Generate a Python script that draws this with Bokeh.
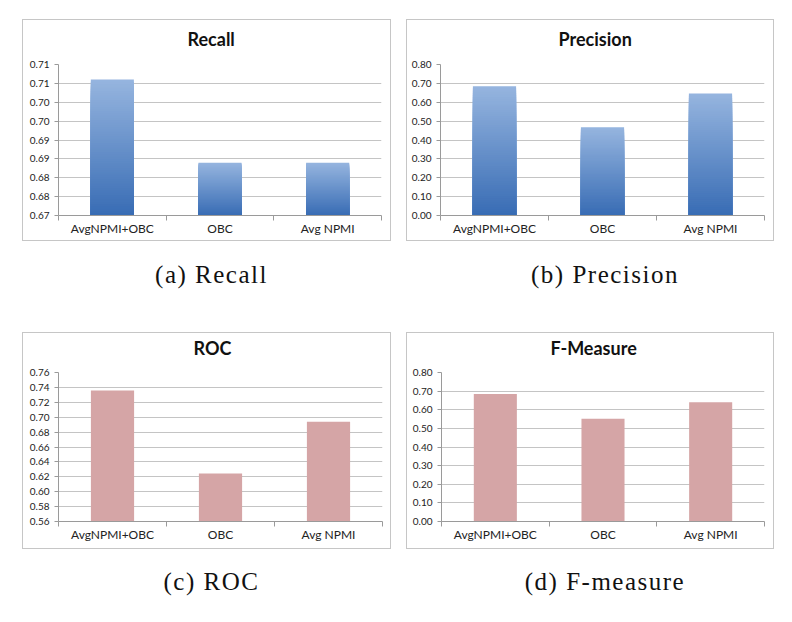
from bokeh.plotting import figure
from bokeh.models import Range1d, FixedTicker, Div, Spacer, Title
from bokeh.layouts import column, row
from bokeh.embed import file_html
from bokeh.resources import INLINE

# ---------------- data ----------------
categories = ["AvgNPMI+OBC", "OBC", "Avg NPMI"]

recall = [0.706, 0.684, 0.684]
precision = [0.685, 0.467, 0.646]
roc = [0.736, 0.6245, 0.694]
fmeasure = [0.685, 0.552, 0.640]

recall_ticks = [0.670, 0.675, 0.680, 0.685, 0.690, 0.695, 0.700, 0.705, 0.710]
recall_tick_labels = ["0.67", "0.68", "0.68", "0.69", "0.69", "0.70", "0.70", "0.71", "0.71"]
precision_ticks = [0.0, 0.1, 0.2, 0.3, 0.4, 0.5, 0.6, 0.7, 0.8]
precision_tick_labels = ["0.00", "0.10", "0.20", "0.30", "0.40", "0.50", "0.60", "0.70", "0.80"]
roc_ticks = [0.56, 0.58, 0.60, 0.62, 0.64, 0.66, 0.68, 0.70, 0.72, 0.74, 0.76]
roc_tick_labels = ["0.56", "0.58", "0.60", "0.62", "0.64", "0.66", "0.68", "0.70", "0.72", "0.74", "0.76"]
fmeasure_ticks = [0.0, 0.1, 0.2, 0.3, 0.4, 0.5, 0.6, 0.7, 0.8]
fmeasure_tick_labels = ["0.00", "0.10", "0.20", "0.30", "0.40", "0.50", "0.60", "0.70", "0.80"]

titles = ["Recall", "Precision", "ROC", "F-Measure"]
captions = ["(a) Recall", "(b) Precision", "(c) ROC", "(d) F-measure"]

# ---------------- styling ----------------
BLUE_TOP = (150, 181, 223)
BLUE_BOTTOM = (56, 108, 180)
PINK = "#d5a5a6"
GRID = "#c4c4c4"
AXIS = "#9a9a9a"
BORDER = "1px solid #c6c6c6"
SANS = "Lato"
SERIF = "Liberation Serif"


def hexcol(c):
    return "#%02x%02x%02x" % tuple(int(round(v)) for v in c)


def panel(title, values, ticks, tick_labels, gradient, w, h, left, right, top, bottom, toff, gap):
    p = figure(width=w, height=h, x_range=Range1d(0, len(categories)),
               y_range=Range1d(ticks[0], ticks[-1]),
               output_backend="svg", toolbar_location=None,
               min_border_left=left, min_border_right=right,
               min_border_top=top, min_border_bottom=bottom,
               styles={"border": BORDER})
    # gap between the frame and the title
    p.add_layout(Title(text="\u00a0", text_font_size="%dpx" % gap, standoff=2,
                       text_color="white"), "above")
    p.add_layout(Title(text=title, align="left", offset=toff, standoff=0,
                       vertical_align="bottom", text_font=SANS,
                       text_font_style="bold", text_font_size="18px",
                       text_color="#111111"), "above")
    p.outline_line_color = None
    p.background_fill_color = "white"
    p.border_fill_color = "white"

    xs = [i + 0.5 for i in range(len(categories))]
    base = ticks[0]
    if gradient:
        n = 60
        # overlapping bars, each shorter and darker than the last
        for k in range(n):
            frac = (n - k) / n
            tops = [base + (v - base) * frac for v in values]
            f = (n - k - 0.5) / n
            col = tuple(BLUE_BOTTOM[j] + (BLUE_TOP[j] - BLUE_BOTTOM[j]) * f for j in range(3))
            p.vbar(x=xs, width=0.4, bottom=base, top=tops,
                   fill_color=hexcol(col), line_color=None)
    else:
        p.vbar(x=xs, width=0.4, bottom=base, top=values,
               fill_color=PINK, line_color=None)

    # x axis
    xa = p.xaxis[0]
    xa.ticker = FixedTicker(ticks=xs, minor_ticks=list(range(len(categories) + 1)))
    xa.major_label_overrides = {x: c for x, c in zip(xs, categories)}
    xa.major_tick_line_color = None
    xa.major_tick_out = 0
    xa.major_tick_in = 0
    xa.minor_tick_line_color = AXIS
    xa.minor_tick_out = 5
    xa.minor_tick_in = 0
    xa.axis_line_color = AXIS
    xa.major_label_text_font = SANS
    xa.major_label_text_font_size = "12px"
    xa.major_label_text_color = "#222222"
    xa.major_label_standoff = 0

    # y axis
    ya = p.yaxis[0]
    ya.ticker = FixedTicker(ticks=ticks, minor_ticks=[])
    ya.major_label_overrides = {t: l for t, l in zip(ticks, tick_labels)}
    ya.axis_line_color = AXIS
    ya.major_tick_line_color = AXIS
    ya.major_tick_out = 4
    ya.major_tick_in = 0
    ya.minor_tick_line_color = None
    ya.major_label_text_font = SANS
    ya.major_label_text_font_size = "10px"
    ya.major_label_text_color = "#222222"
    ya.major_label_standoff = 5

    p.xgrid.grid_line_color = None
    p.ygrid.ticker = FixedTicker(ticks=ticks)
    p.ygrid.grid_line_color = GRID
    return p


def caption(text, w, h, pad):
    return Div(text='<div style="width:%dpx;text-align:center;font-family:\'%s\';'
                    'font-size:25px;letter-spacing:1.5px;color:#111;line-height:1;'
                    'padding-top:%dpx;">%s</div>' % (w, SERIF, pad, text),
               width=w, height=h)


pa = panel(titles[0], recall, recall_ticks, recall_tick_labels, True, 369, 222, 35, 11, 44, 27, 129, 10)
pb = panel(titles[1], precision, precision_ticks, precision_tick_labels, True, 368, 222, 33, 11, 44, 27, 118, 10)
pc = panel(titles[2], roc, roc_ticks, roc_tick_labels, False, 369, 217, 35, 10, 39, 29, 135, 9)
pd_ = panel(titles[3], fmeasure, fmeasure_ticks, fmeasure_tick_labels, False, 368, 217, 34, 11, 39, 29, 109, 9)

row1 = row(Spacer(width=22), pa, Spacer(width=15), pb)
cap1 = row(Spacer(width=22), caption(captions[0], 369, 81, 16), Spacer(width=15),
           caption(captions[1], 368, 81, 16))
row2 = row(Spacer(width=22), pc, Spacer(width=15), pd_)
cap2 = row(Spacer(width=22), caption(captions[2], 369, 60, 15), Spacer(width=15),
           caption(captions[3], 368, 60, 15))

layout = column(Spacer(height=19), row1, cap1, row2, cap2)

open("out.html", "w").write(file_html(layout, INLINE))
